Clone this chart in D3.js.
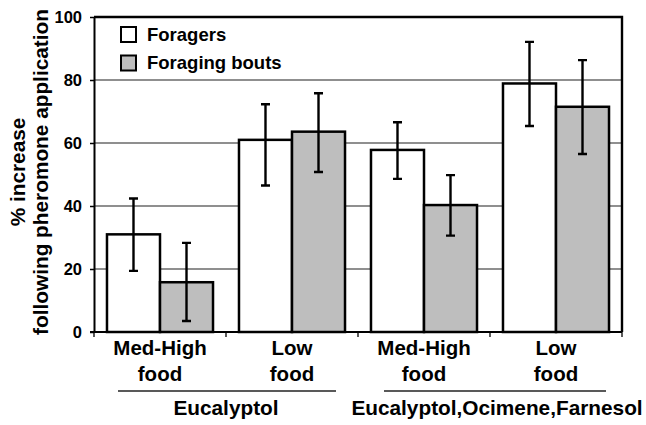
<!DOCTYPE html>
<html>
<head>
<meta charset="utf-8">
<script src="https://cdn.jsdelivr.net/npm/d3@7"></script>
<style>
  body { margin: 0; background: #fff; }
  text { font-family: "Liberation Sans", Arial, sans-serif; font-weight: bold; fill: #000; }
</style>
</head>
<body>
<svg id="plot" width="646" height="425"></svg>
<script>
// data
const catLine1 = ['Med-High', 'Low', 'Med-High', 'Low']
const catLine2 = ['food', 'food', 'food', 'food']
const treatments = ['Eucalyptol', 'Eucalyptol,Ocimene,Farnesol'] // each covers 2 categories
const series = ['Foragers', 'Foraging bouts']
const foragers = [31.0, 61.0, 57.8, 78.9]
const foragersLow = [19.4, 46.5, 48.6, 65.4]
const foragersHigh = [42.4, 72.3, 66.6, 92.1]
const bouts = [15.8, 63.6, 40.3, 71.5]
const boutsLow = [3.5, 50.8, 30.6, 56.5]
const boutsHigh = [28.3, 75.8, 49.8, 86.3]
const yTicks = [0, 20, 40, 60, 80, 100]

const fills = ['#ffffff', '#bebebe']
const margin = {top: 17, right: 24, bottom: 93, left: 94}
const width = 646, height = 425

let svg = d3.select('#plot')

let y = d3.scaleLinear().domain([0, 100]).range([height - margin.bottom, margin.top])
let x0 = d3.scaleBand().domain(d3.range(catLine1.length)).range([margin.left, width - margin.right])
let x1 = d3.scaleBand().domain(series).range([0, x0.bandwidth()]).paddingOuter(0.245)

//gridlines
svg.append('g').selectAll('line').data(yTicks.filter(t => t > 0 && t < 100)).enter().append('line')
  .attr('x1', margin.left).attr('x2', width - margin.right)
  .attr('y1', d => y(d)).attr('y2', d => y(d))
  .attr('stroke', '#6a6a6a').attr('stroke-width', 1.3)

//y axis
let yAxis = svg.append('g').attr('transform', `translate(${margin.left},0)`)
  .call(d3.axisLeft(y).tickValues(yTicks).tickSize(4).tickSizeOuter(0))
yAxis.select('.domain').attr('stroke', '#000').attr('stroke-width', 2)
yAxis.selectAll('.tick line').attr('stroke', '#000').attr('stroke-width', 1.5)
yAxis.selectAll('.tick text').attr('x', -12).attr('dy', '0.36em').style('font-size', '16.5px')
yAxis.attr('font-family', null).attr('font-size', null)

//top and right frame
svg.append('path')
  .attr('d', `M${margin.left},${y(100)}H${width - margin.right}V${y(0)}`)
  .attr('fill', 'none').attr('stroke', '#000').attr('stroke-width', 2.4)

//bars
const seriesData = [
  {name: series[0], vals: foragers, lo: foragersLow, hi: foragersHigh},
  {name: series[1], vals: bouts, lo: boutsLow, hi: boutsHigh}
]
seriesData.forEach((s, si) => {
  let g = svg.append('g')
  g.selectAll('rect').data(s.vals).enter().append('rect')
    .attr('x', (d, i) => x0(i) + x1(s.name))
    .attr('width', x1.bandwidth())
    .attr('y', d => y(d))
    .attr('height', d => y(0) - y(d))
    .attr('fill', fills[si]).attr('stroke', '#000').attr('stroke-width', 2.5)
  //error bars
  let cx = i => x0(i) + x1(s.name) + x1.bandwidth() / 2
  g.selectAll('path.err').data(s.vals).enter().append('path').attr('class', 'err')
    .attr('d', (d, i) => `M${cx(i)},${y(s.hi[i])}V${y(s.lo[i])}` +
      `M${cx(i) - 4.5},${y(s.hi[i])}h9M${cx(i) - 4.5},${y(s.lo[i])}h9`)
    .attr('fill', 'none').attr('stroke', '#000').attr('stroke-width', 2.4)
})

//x axis
let xAxis = svg.append('g').attr('transform', `translate(0,${y(0)})`)
xAxis.append('line').attr('x1', margin.left - 4).attr('x2', width - margin.right)
  .attr('stroke', '#000').attr('stroke-width', 2)
xAxis.selectAll('line.tk').data(d3.range(catLine1.length + 1)).enter().append('line').attr('class', 'tk')
  .attr('x1', i => margin.left + i * x0.step()).attr('x2', i => margin.left + i * x0.step())
  .attr('y1', 0).attr('y2', 5).attr('stroke', '#000').attr('stroke-width', 1.3)

let catLabels = svg.append('g').selectAll('text').data(catLine1).enter().append('text')
  .attr('text-anchor', 'middle').style('font-size', '20.5px')
  .attr('transform', (d, i) => `translate(${x0(i) + x0.bandwidth() / 2},${y(0) + 23})`)
catLabels.append('tspan').attr('x', 0).attr('y', 0).text(d => d)
catLabels.append('tspan').attr('x', 0).attr('y', 26).text((d, i) => catLine2[i])

//treatment underline + label
treatments.forEach((t, ti) => {
  let c = x0(ti * 2) + x0.step()
  svg.append('line').attr('x1', c - 108 + ti * 2).attr('x2', c + 110 + ti * 6)
    .attr('y1', y(0) + 59).attr('y2', y(0) + 59)
    .attr('stroke', '#222').attr('stroke-width', 1.5)
  svg.append('text').attr('x', c + ti * 7).attr('y', y(0) + 83)
    .attr('text-anchor', 'middle').style('font-size', '20.8px').text(t)
})

//y title
let yTitle = svg.append('text').attr('text-anchor', 'middle').style('font-size', '20.8px')
  .attr('transform', 'translate(25,172) rotate(-90)')
yTitle.append('tspan').attr('x', 0).attr('y', 0).text('% increase')
yTitle.append('tspan').attr('x', 0).attr('y', 23).text('following pheromone application')

//legend
let legend = svg.append('g').attr('transform', 'translate(121,27)')
series.forEach((s, i) => {
  legend.append('rect').attr('x', 0).attr('y', i * 28.5).attr('width', 15).attr('height', 15)
    .attr('fill', fills[i]).attr('stroke', '#000').attr('stroke-width', 2)
  legend.append('text').attr('x', 26).attr('y', i * 28.5 + 13.5).style('font-size', '18.5px').text(s)
})
</script>
</body>
</html>
